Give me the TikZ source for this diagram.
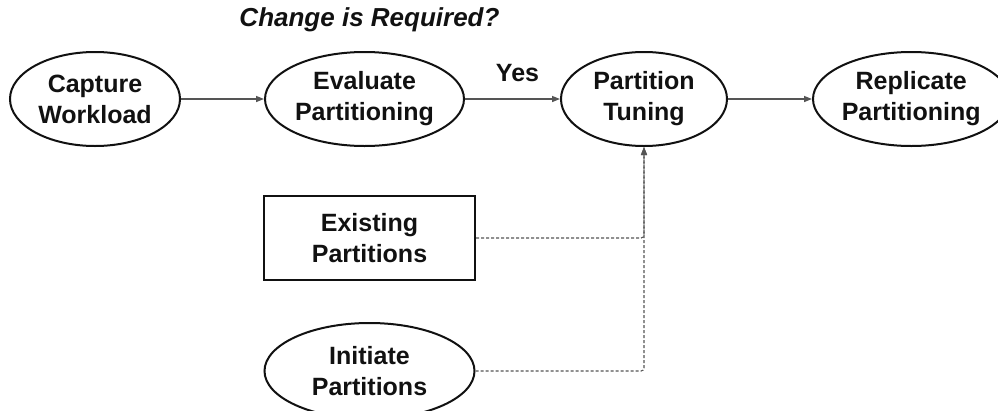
\documentclass[tikz,border=0pt]{standalone}
\usepackage{fontspec}
\setmainfont{Liberation Sans}
\usetikzlibrary{arrows.meta,positioning,shapes.geometric}
\definecolor{ink}{HTML}{111111}
\definecolor{wire}{HTML}{555555}
\definecolor{dots}{HTML}{555555}
\newcommand{\bigfont}{\bfseries\fontsize{25}{31}\selectfont}

\begin{document}
\begin{tikzpicture}[
  x=1pt, y=1pt,
  font=\bigfont, text=ink,
  stage/.style={ellipse, draw=ink, line width=2pt, inner sep=0pt, minimum height=94pt, align=center},
  store/.style={rectangle, draw=ink, line width=2pt, minimum width=211pt, minimum height=84pt, align=center},
  arr/.style={-{Triangle[length=8pt,width=6pt]}, wire, line width=1.4pt},
  feed/.style={-{Triangle[length=8pt,width=6pt]}, dots, line width=1.1pt, dash pattern=on 3pt off 2pt, rounded corners=3pt},
  note/.style={inner sep=0pt, text=ink}
]
\useasboundingbox (0,0) rectangle (998,-410);
\node[stage, minimum width=170pt] (cap) at (95,-99) {Capture\\Workload};
\node[stage, minimum width=199pt, right=83pt of cap] (eval) {Evaluate\\Partitioning};
\node[stage, minimum width=166pt, right=95pt of eval] (tune) {Partition\\Tuning};
\node[stage, minimum width=190pt, right=84pt of tune] (repl) {Replicate\\Partitioning};
\node[store, below=48pt of eval, xshift=5pt] (exist) {Existing\\Partitions};
\node[stage, minimum width=210pt, minimum height=96pt, below=41pt of exist] (init) {Initiate\\Partitions};
\node[note, above=19pt of eval, xshift=5pt, font=\bfseries\itshape\fontsize{26}{31}\selectfont] (ask) {Change is Required?};
\draw[arr] (cap) -- (eval);
\draw[arr] (eval) -- node[note, above=17pt, xshift=5pt] (yes) {Yes} (tune);
\draw[arr] (tune) -- (repl);
\draw[feed] (exist.east) -| (tune.south);
\draw[feed] (init.east) -| (tune.south);
\end{tikzpicture}
\end{document}
